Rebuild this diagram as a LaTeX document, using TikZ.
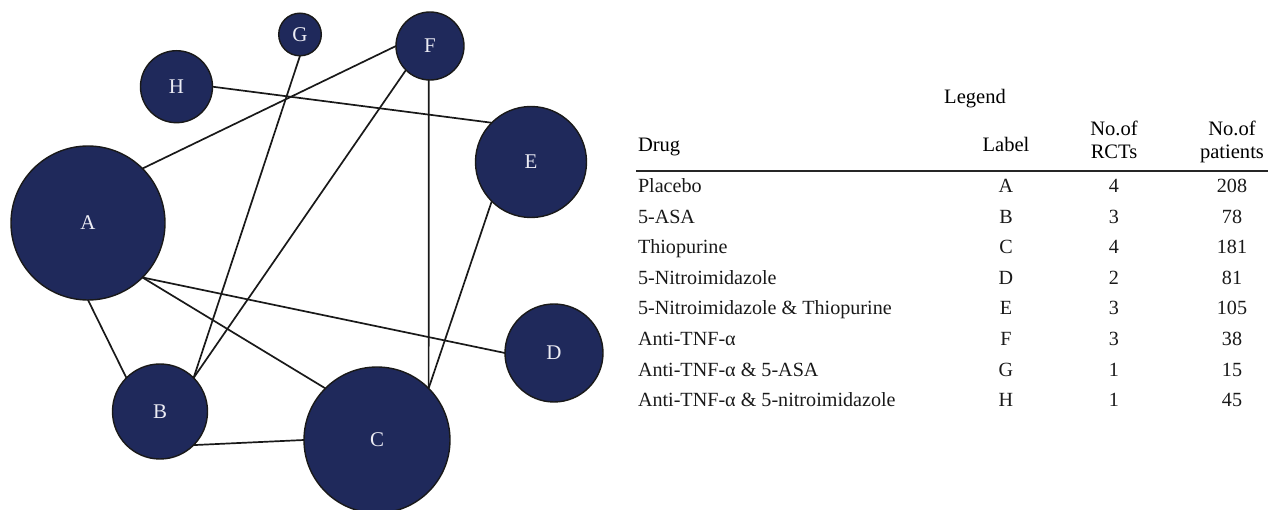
\documentclass[tikz,border=0pt]{standalone}
\usepackage{fontspec}
\setmainfont{Liberation Serif}
\definecolor{navy}{RGB}{31,41,91}
\definecolor{lbl}{RGB}{236,236,244}
\definecolor{edgec}{RGB}{25,25,25}
\begin{document}
\begin{tikzpicture}[x=1bp,y=-1bp,
  drugnode/.style={circle, draw=edgec, line width=1.4bp, fill=navy, text=lbl,
    inner sep=0pt, outer sep=0pt, font=\fontsize{21}{23}\selectfont},
  link/.style={draw=edgec, line width=1.7bp},
  tab/.style={inner sep=0pt, outer sep=0pt, font=\fontsize{20.2}{23}\selectfont, text=black!90},
  tabl/.style={tab, anchor=base west},
  tabc/.style={tab, anchor=base},
  hdr/.style={tab, anchor=base, font=\fontsize{20.6}{23}\selectfont, text=black}]
\useasboundingbox (0,0) rectangle (1269,510);
% network nodes
\node[drugnode, minimum size=154bp] (A) at (88,223) {A};
\node[drugnode, minimum size=95bp] (B) at (160,411.5) {B};
\node[drugnode, minimum size=146bp] (C) at (377,440) {C};
\node[drugnode, minimum size=98bp] (D) at (554,353) {D};
\node[drugnode, minimum size=111bp] (E) at (531,162) {E};
\node[drugnode, minimum size=68bp] (F) at (430,46) {F};
\node[drugnode, minimum size=42.6bp] (G) at (300,34.5) {G};
\node[drugnode, minimum size=72bp] (H) at (176.5,86.7) {H};
% network edges
\draw[link] (H.0) -- (E.135);
\draw[link] (G.-90) -- (B.45);
\draw[link] (F.180) -- (A.45);
\draw[link] (F.-135) -- (B.45);
\draw[link] (F.-92) -- (C.45);
\draw[link] (E.-135) -- (C.45);
\draw[link] (A.-45) -- (D.180);
\draw[link] (A.-45) -- (C.135);
\draw[link] (A.-90) -- (B.135);
\draw[link] (B.-45) -- (C.180);
% legend table
\node[hdr] (leg) at (975,104) {Legend};
\node[hdr, anchor=base west] (hdrug) at (638,152) {Drug};
\node[hdr] (hlabel) at (1006,152) {Label};
\node[hdr] (hrct1) at (1114,136) {No.of};
\node[hdr] (hrct2) at (1114,159) {RCTs};
\node[hdr] (hpat1) at (1232,136) {No.of};
\node[hdr] (hpat2) at (1232,159) {patients};
\coordinate (ruleL) at (636,171);
\coordinate (ruleR) at (1268,171);
\draw[line width=1.7bp, black!85] (ruleL) -- (ruleR);
\foreach \i/\drug/\lab/\rct/\pat in {
  1/Placebo/A/4/208,
  2/5-ASA/B/3/78,
  3/Thiopurine/C/4/181,
  4/5-Nitroimidazole/D/2/81,
  5/5-Nitroimidazole \& Thiopurine/E/3/105,
  6/Anti-TNF-α/F/3/38,
  7/Anti-TNF-α \& 5-ASA/G/1/15,
  8/Anti-TNF-α \& 5-nitroimidazole/H/1/45}{
  \pgfmathsetmacro{\yy}{192.5+30.6*(\i-1)}
  \node[tabl] (d\i) at (638,\yy) {\drug};
  \node[tabc] (l\i) at (1006,\yy) {\lab};
  \node[tabc] (r\i) at (1114,\yy) {\rct};
  \node[tabc] (p\i) at (1232,\yy) {\pat};
}
\end{tikzpicture}
\end{document}
